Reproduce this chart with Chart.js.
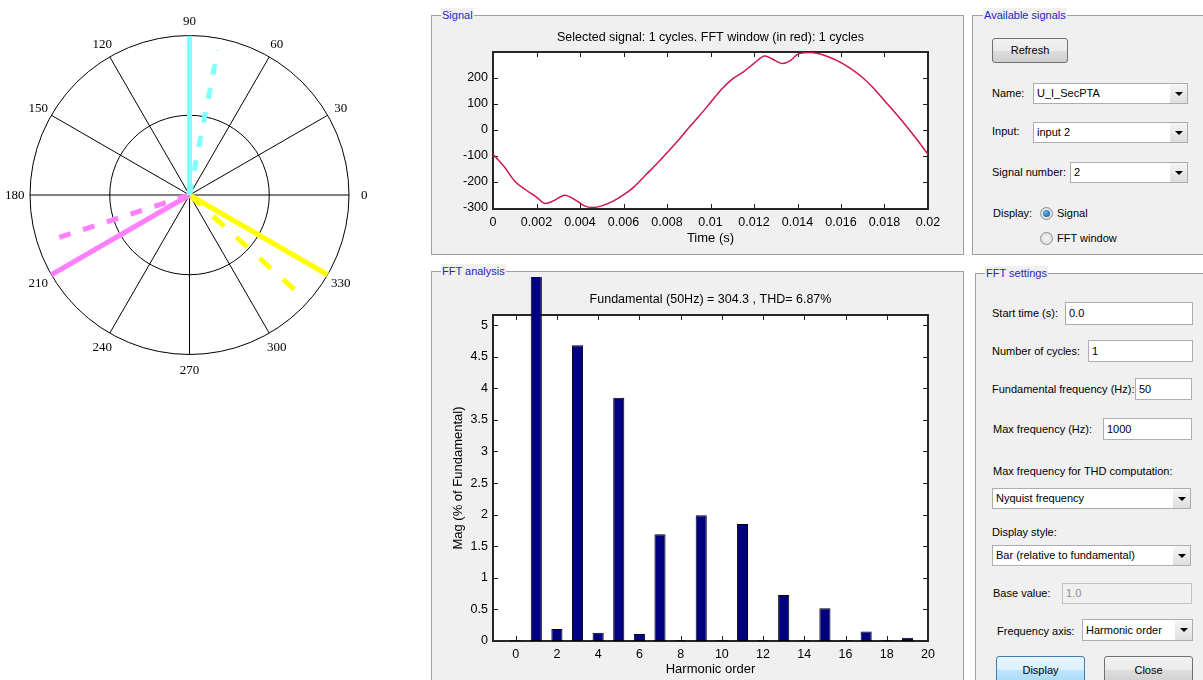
<!DOCTYPE html>
<html>
<head>
<meta charset="utf-8">
<script src="https://cdn.jsdelivr.net/npm/chart.js@4/dist/chart.umd.min.js"></script>
<style>
  body { margin: 0; width: 1203px; height: 680px; background: #fff; overflow: hidden; position: relative; font-family: 'Liberation Sans', Arial, sans-serif; }
  canvas { position: absolute; }
  .panel { position: absolute; border: 1px solid #a0a0a0; background: #f0f0f0; box-sizing: border-box; }
  .cap { position: absolute; top: -8px; font-size: 11px; line-height: 14px; color: #2424c8; background: #f0f0f0; padding: 0 1px; }
  .lbl { position: absolute; font-size: 11px; line-height: 14px; white-space: nowrap; color: #000; }
  .box { position: absolute; background: #fff; border: 1px solid #abadb3; box-sizing: border-box; font-size: 11px; padding-left: 3px; white-space: nowrap; }
  .box.off { background: #f0f0f0; color: #8d8d8d; border-color: #c2c2c2; }
  .arr { position: absolute; right: 0; top: 0; bottom: 0; width: 17px; background: linear-gradient(#f6f6f6, #dedede); }
  .arr:after { content: ''; position: absolute; left: 5px; top: 50%; margin-top: -2px; border-left: 4px solid transparent; border-right: 4px solid transparent; border-top: 4px solid #000; }
  .btn { position: absolute; border: 1px solid #707070; border-radius: 3px; box-sizing: border-box; text-align: center; font-size: 11px; background: linear-gradient(#f2f2f2, #ebebeb 50%, #dddddd 50%, #cfcfcf); }
  .btn.blue { border-color: #3c7fb1; background: linear-gradient(#eaf6fd, #d9f0fc 50%, #bee6fd 50%, #a7d9f5); }
  .radio { position: absolute; width: 13px; height: 13px; border-radius: 50%; border: 1px solid #8e8f8f; box-sizing: border-box; background: radial-gradient(#f4f4f4, #d6d6d6); }
  .radio.on:after { content: ''; position: absolute; left: 2px; top: 2px; width: 7px; height: 7px; border-radius: 50%; background: radial-gradient(circle at 40% 35%, #5fb4f0, #0d4f9a); }
</style>
</head>
<body>

<canvas id="polar" width="380" height="390" style="left:0;top:0"></canvas>

<div class="panel" style="left:431px;top:15px;width:533px;height:240px"><span class="cap" style="left:9px">Signal</span></div>
<div class="panel" style="left:431px;top:271px;width:533px;height:430px"><span class="cap" style="left:9px">FFT analysis</span></div>
<div class="panel" style="left:972px;top:15px;width:250px;height:240px"><span class="cap" style="left:10px">Available signals</span></div>
<div class="panel" style="left:975px;top:273px;width:250px;height:430px"><span class="cap" style="left:9px">FFT settings</span></div>

<canvas id="signal" width="559" height="234" style="left:431px;top:20px"></canvas>
<canvas id="fft" width="559" height="410" style="left:431px;top:270px"></canvas>

<!-- Available signals -->
<div class="btn" style="left:992px;top:38px;width:76px;height:25px;line-height:23px">Refresh</div>
<div class="lbl" style="left:992px;top:86px">Name:</div>
<div class="box" style="left:1033px;top:83px;width:155px;height:21px;line-height:19px">U_I_SecPTA<div class="arr"></div></div>
<div class="lbl" style="left:992px;top:124px">Input:</div>
<div class="box" style="left:1033px;top:122px;width:155px;height:21px;line-height:19px">input 2<div class="arr"></div></div>
<div class="lbl" style="left:992px;top:165px">Signal number:</div>
<div class="box" style="left:1070px;top:162px;width:118px;height:21px;line-height:19px">2<div class="arr"></div></div>
<div class="lbl" style="left:993px;top:206px">Display:</div>
<div class="radio on" style="left:1040px;top:207px"></div>
<div class="lbl" style="left:1057px;top:206px">Signal</div>
<div class="radio" style="left:1040px;top:232px"></div>
<div class="lbl" style="left:1057px;top:231px">FFT window</div>

<!-- FFT settings -->
<div class="lbl" style="left:992px;top:306px">Start time (s):</div>
<div class="box" style="left:1065px;top:302px;width:128px;height:23px;line-height:21px">0.0</div>
<div class="lbl" style="left:992px;top:344px">Number of cycles:</div>
<div class="box" style="left:1088px;top:340px;width:105px;height:22px;line-height:20px">1</div>
<div class="lbl" style="left:992px;top:382px">Fundamental frequency (Hz):</div>
<div class="box" style="left:1135px;top:378px;width:57px;height:22px;line-height:20px">50</div>
<div class="lbl" style="left:993px;top:422px">Max frequency (Hz):</div>
<div class="box" style="left:1103px;top:418px;width:89px;height:22px;line-height:20px">1000</div>
<div class="lbl" style="left:993px;top:464px">Max frequency for THD computation:</div>
<div class="box" style="left:992px;top:488px;width:199px;height:21px;line-height:19px">Nyquist frequency<div class="arr"></div></div>
<div class="lbl" style="left:992px;top:525px">Display style:</div>
<div class="box" style="left:992px;top:545px;width:199px;height:21px;line-height:19px">Bar (relative to fundamental)<div class="arr"></div></div>
<div class="lbl" style="left:993px;top:586px">Base value:</div>
<div class="box off" style="left:1062px;top:583px;width:130px;height:21px;line-height:19px">1.0</div>
<div class="lbl" style="left:997px;top:624px">Frequency axis:</div>
<div class="box" style="left:1082px;top:619px;width:111px;height:22px;line-height:20px">Harmonic order<div class="arr"></div></div>
<div class="btn blue" style="left:996px;top:656px;width:89px;height:28px;line-height:26px">Display</div>
<div class="btn" style="left:1104px;top:656px;width:89px;height:28px;line-height:26px">Close</div>

<script>
// phasors (angle in degrees, magnitude relative to the outer ring)
const phasorAngles = [90, 79, 210, 198, 330, 318];
const phasorMags = [1, 0.925, 1, 0.86, 1, 0.89];
const phasorColors = ['#80ffff', '#80ffff', '#ff80ff', '#ff80ff', '#ffff00', '#ffff00'];
const phasorDash = [[], [11, 13.5], [], [12, 13], [], [15, 16.5]];
const polarRings = [0.5, 1];
const polarSpokes = [0, 30, 60, 90, 120, 150, 180, 210, 240, 270, 300, 330];

// signal window
const sigTime = [0, 0.0005, 0.001, 0.0015, 0.002, 0.0024, 0.0028, 0.0033, 0.0038, 0.0042, 0.0046, 0.005,
  0.0055, 0.006, 0.0065, 0.007, 0.0075, 0.008, 0.0085, 0.009, 0.0095, 0.01, 0.0105, 0.011, 0.0115, 0.012,
  0.0125, 0.013, 0.0133, 0.0137, 0.014, 0.0145, 0.015, 0.0155, 0.016, 0.0165, 0.017, 0.0175, 0.018,
  0.0185, 0.019, 0.0195, 0.02];
const sigValue = [-94, -140, -197, -230, -258, -283, -272, -251, -270, -292, -298, -292,
  -275, -250, -218, -175, -133, -88, -42, 8, 55, 105, 155, 195, 222, 255,
  284, 265, 255, 268, 290, 297, 292, 278, 258, 232, 200, 160, 112,
  65, 15, -38, -94];
const timeTicks = [0, 0.002, 0.004, 0.006, 0.008, 0.01, 0.012, 0.014, 0.016, 0.018, 0.02];
const sigTicks = [-300, -200, -100, 0, 100, 200];

// harmonic spectrum, % of fundamental
const harmonics = [0, 1, 2, 3, 4, 5, 6, 7, 8, 9, 10, 11, 12, 13, 14, 15, 16, 17, 18, 19];
const magnitudes = [0.01, 100, 0.19, 4.68, 0.13, 3.85, 0.11, 1.69, 0.01, 1.99, 0.01, 1.85, 0.01, 0.73, 0.01, 0.52, 0.01, 0.15, 0.01, 0.05];
const harmTicks = [0, 2, 4, 6, 8, 10, 12, 14, 16, 18, 20];
const magTicks = [0, 0.5, 1, 1.5, 2, 2.5, 3, 3.5, 4, 4.5, 5];

const SANS = "'Liberation Sans', Arial, sans-serif";
Chart.defaults.color = '#000';
Chart.defaults.font.family = SANS;

// polar grid: rings, spokes, angle labels
const polarGrid = {
  id: 'polarGrid',
  beforeDatasetsDraw(chart) {
    const {ctx, scales: {x, y}} = chart;
    const cx = x.getPixelForValue(0), cy = y.getPixelForValue(0);
    const R = x.getPixelForValue(1) - cx;
    ctx.save();
    ctx.strokeStyle = '#000';
    ctx.lineWidth = 1;
    polarRings.forEach(r => {
      ctx.beginPath();
      ctx.arc(cx, cy, r * R, 0, Math.PI * 2);
      ctx.stroke();
    });
    ctx.beginPath();
    polarSpokes.forEach(a => {
      const t = a * Math.PI / 180;
      ctx.moveTo(cx, cy);
      ctx.lineTo(cx + R * Math.cos(t), cy - R * Math.sin(t));
    });
    ctx.stroke();
    ctx.font = "13px 'Liberation Serif', 'Times New Roman', serif";
    ctx.fillStyle = '#000';
    ctx.textAlign = 'center';
    ctx.textBaseline = 'middle';
    polarSpokes.forEach(a => {
      const t = a * Math.PI / 180;
      ctx.fillText(String(a), cx + 1.095 * R * Math.cos(t), cy - 1.095 * R * Math.sin(t) + 1);
    });
    ctx.restore();
  }
};

new Chart(document.getElementById('polar'), {
  type: 'scatter',
  data: {
    datasets: phasorAngles.map((a, i) => ({
      data: [{x: 0, y: 0}, {x: phasorMags[i] * Math.cos(a * Math.PI / 180), y: phasorMags[i] * Math.sin(a * Math.PI / 180)}],
      showLine: true,
      borderColor: phasorColors[i],
      borderWidth: 5,
      borderDash: phasorDash[i],
      pointRadius: 0
    }))
  },
  options: {
    responsive: false,
    animation: false,
    layout: {padding: {left: 30, right: 31, top: 35.5, bottom: 35.5}},
    plugins: {legend: {display: false}, tooltip: {enabled: false}},
    scales: {
      x: {type: 'linear', min: -1, max: 1, display: false},
      y: {type: 'linear', min: -1, max: 1, display: false}
    }
  },
  plugins: [polarGrid]
});

// MATLAB style box with inward ticks on all four sides
const matlabAxes = {
  id: 'matlabAxes',
  beforeDatasetsDraw(chart) {
    const {ctx, chartArea: a, scales: {x, y}} = chart;
    ctx.save();
    ctx.fillStyle = '#fff';
    ctx.fillRect(a.left, a.top, a.width, a.height);
    ctx.strokeStyle = '#1e1e1e';
    ctx.lineWidth = 1;
    ctx.beginPath();
    x.ticks.forEach(t => {
      const p = Math.round(x.getPixelForValue(t.value)) + 0.5;
      ctx.moveTo(p, a.bottom); ctx.lineTo(p, a.bottom - 5);
      ctx.moveTo(p, a.top); ctx.lineTo(p, a.top + 5);
    });
    y.ticks.forEach(t => {
      const p = Math.round(y.getPixelForValue(t.value)) + 0.5;
      ctx.moveTo(a.left, p); ctx.lineTo(a.left + 5, p);
      ctx.moveTo(a.right, p); ctx.lineTo(a.right - 5, p);
    });
    ctx.stroke();
    ctx.lineWidth = 2;
    ctx.strokeStyle = '#262626';
    ctx.strokeRect(a.left, a.top, a.width, a.height);
    ctx.restore();
  }
};

const tickFont = {size: 12.5, family: SANS};
const titleFont = {size: 12.5, family: SANS, weight: 'normal'};
const labelFont = {size: 13, family: SANS, weight: 'normal'};
const noGrid = {display: false, drawTicks: false};
// empty right-hand axis so the plot (and its title) is centred in the canvas
const spacer = {
  position: 'right', display: true,
  afterFit: s => { s.width = 62; },
  ticks: {display: false}, grid: noGrid, border: {display: false}
};

new Chart(document.getElementById('signal'), {
  type: 'line',
  data: {
    datasets: [{
      data: sigTime.map((t, i) => ({x: t, y: sigValue[i]})),
      borderColor: '#cc1456',
      borderWidth: 1.5,
      pointRadius: 0,
      cubicInterpolationMode: 'monotone',
      fill: false
    }]
  },
  options: {
    responsive: false,
    animation: false,
    layout: {padding: 0},
    plugins: {
      legend: {display: false},
      tooltip: {enabled: false},
      title: {display: true, text: 'Selected signal: 1 cycles. FFT window (in red): 1 cycles', font: titleFont, color: '#000', padding: {top: 10.5, bottom: 6.5}}
    },
    scales: {
      x: {
        type: 'linear', min: 0, max: 0.02,
        afterBuildTicks: s => { s.ticks = timeTicks.map(v => ({value: v})); },
        afterFit: s => { s.height = 45; },
        ticks: {font: tickFont, padding: 6.5, maxRotation: 0, autoSkip: false, callback: v => String(v)},
        grid: noGrid, border: {display: false},
        title: {display: true, text: 'Time (s)', font: labelFont, padding: {top: 0, bottom: 8.2}}
      },
      y: {
        type: 'linear', min: -304, max: 299,
        afterBuildTicks: s => { s.ticks = sigTicks.map(v => ({value: v})); },
        afterFit: s => { s.width = 62; },
        ticks: {font: tickFont, padding: 5, autoSkip: false, callback: v => String(v)},
        grid: noGrid, border: {display: false}
      },
      y2: spacer
    }
  },
  plugins: [matlabAxes]
});

new Chart(document.getElementById('fft'), {
  type: 'bar',
  data: {
    datasets: [{
      data: harmonics.map((h, i) => ({x: h, y: magnitudes[i]})),
      backgroundColor: '#000080',
      borderColor: '#000000',
      borderWidth: 1,
      borderSkipped: false,
      barPercentage: 0.54,
      categoryPercentage: 1,
      clip: {left: 0, right: 0, top: 38, bottom: 0}
    }]
  },
  options: {
    responsive: false,
    animation: false,
    layout: {padding: 0},
    plugins: {
      legend: {display: false},
      tooltip: {enabled: false},
      title: {display: true, text: 'Fundamental (50Hz) = 304.3 , THD= 6.87%', font: titleFont, color: '#000', padding: {top: 22.5, bottom: 7.5}}
    },
    scales: {
      x: {
        type: 'linear', min: -1.1, max: 20, offset: false,
        afterBuildTicks: s => { s.ticks = harmTicks.map(v => ({value: v})); },
        afterFit: s => { s.height = 39; },
        ticks: {font: tickFont, padding: 6, maxRotation: 0, autoSkip: false, callback: v => String(v)},
        grid: {display: false, drawTicks: false, offset: false}, border: {display: false},
        title: {display: true, text: 'Harmonic order', font: labelFont, padding: {top: 0, bottom: 3.2}}
      },
      y: {
        type: 'linear', min: 0, max: 5.16,
        afterBuildTicks: s => { s.ticks = magTicks.map(v => ({value: v})); },
        afterFit: s => { s.width = 62; },
        ticks: {font: tickFont, padding: 5, autoSkip: false, callback: v => String(v)},
        grid: noGrid, border: {display: false},
        title: {display: true, text: 'Mag (% of Fundamental)', font: labelFont, padding: {top: 19.2, bottom: 0}}
      },
      y2: spacer
    }
  },
  plugins: [matlabAxes]
});
</script>
</body>
</html>
